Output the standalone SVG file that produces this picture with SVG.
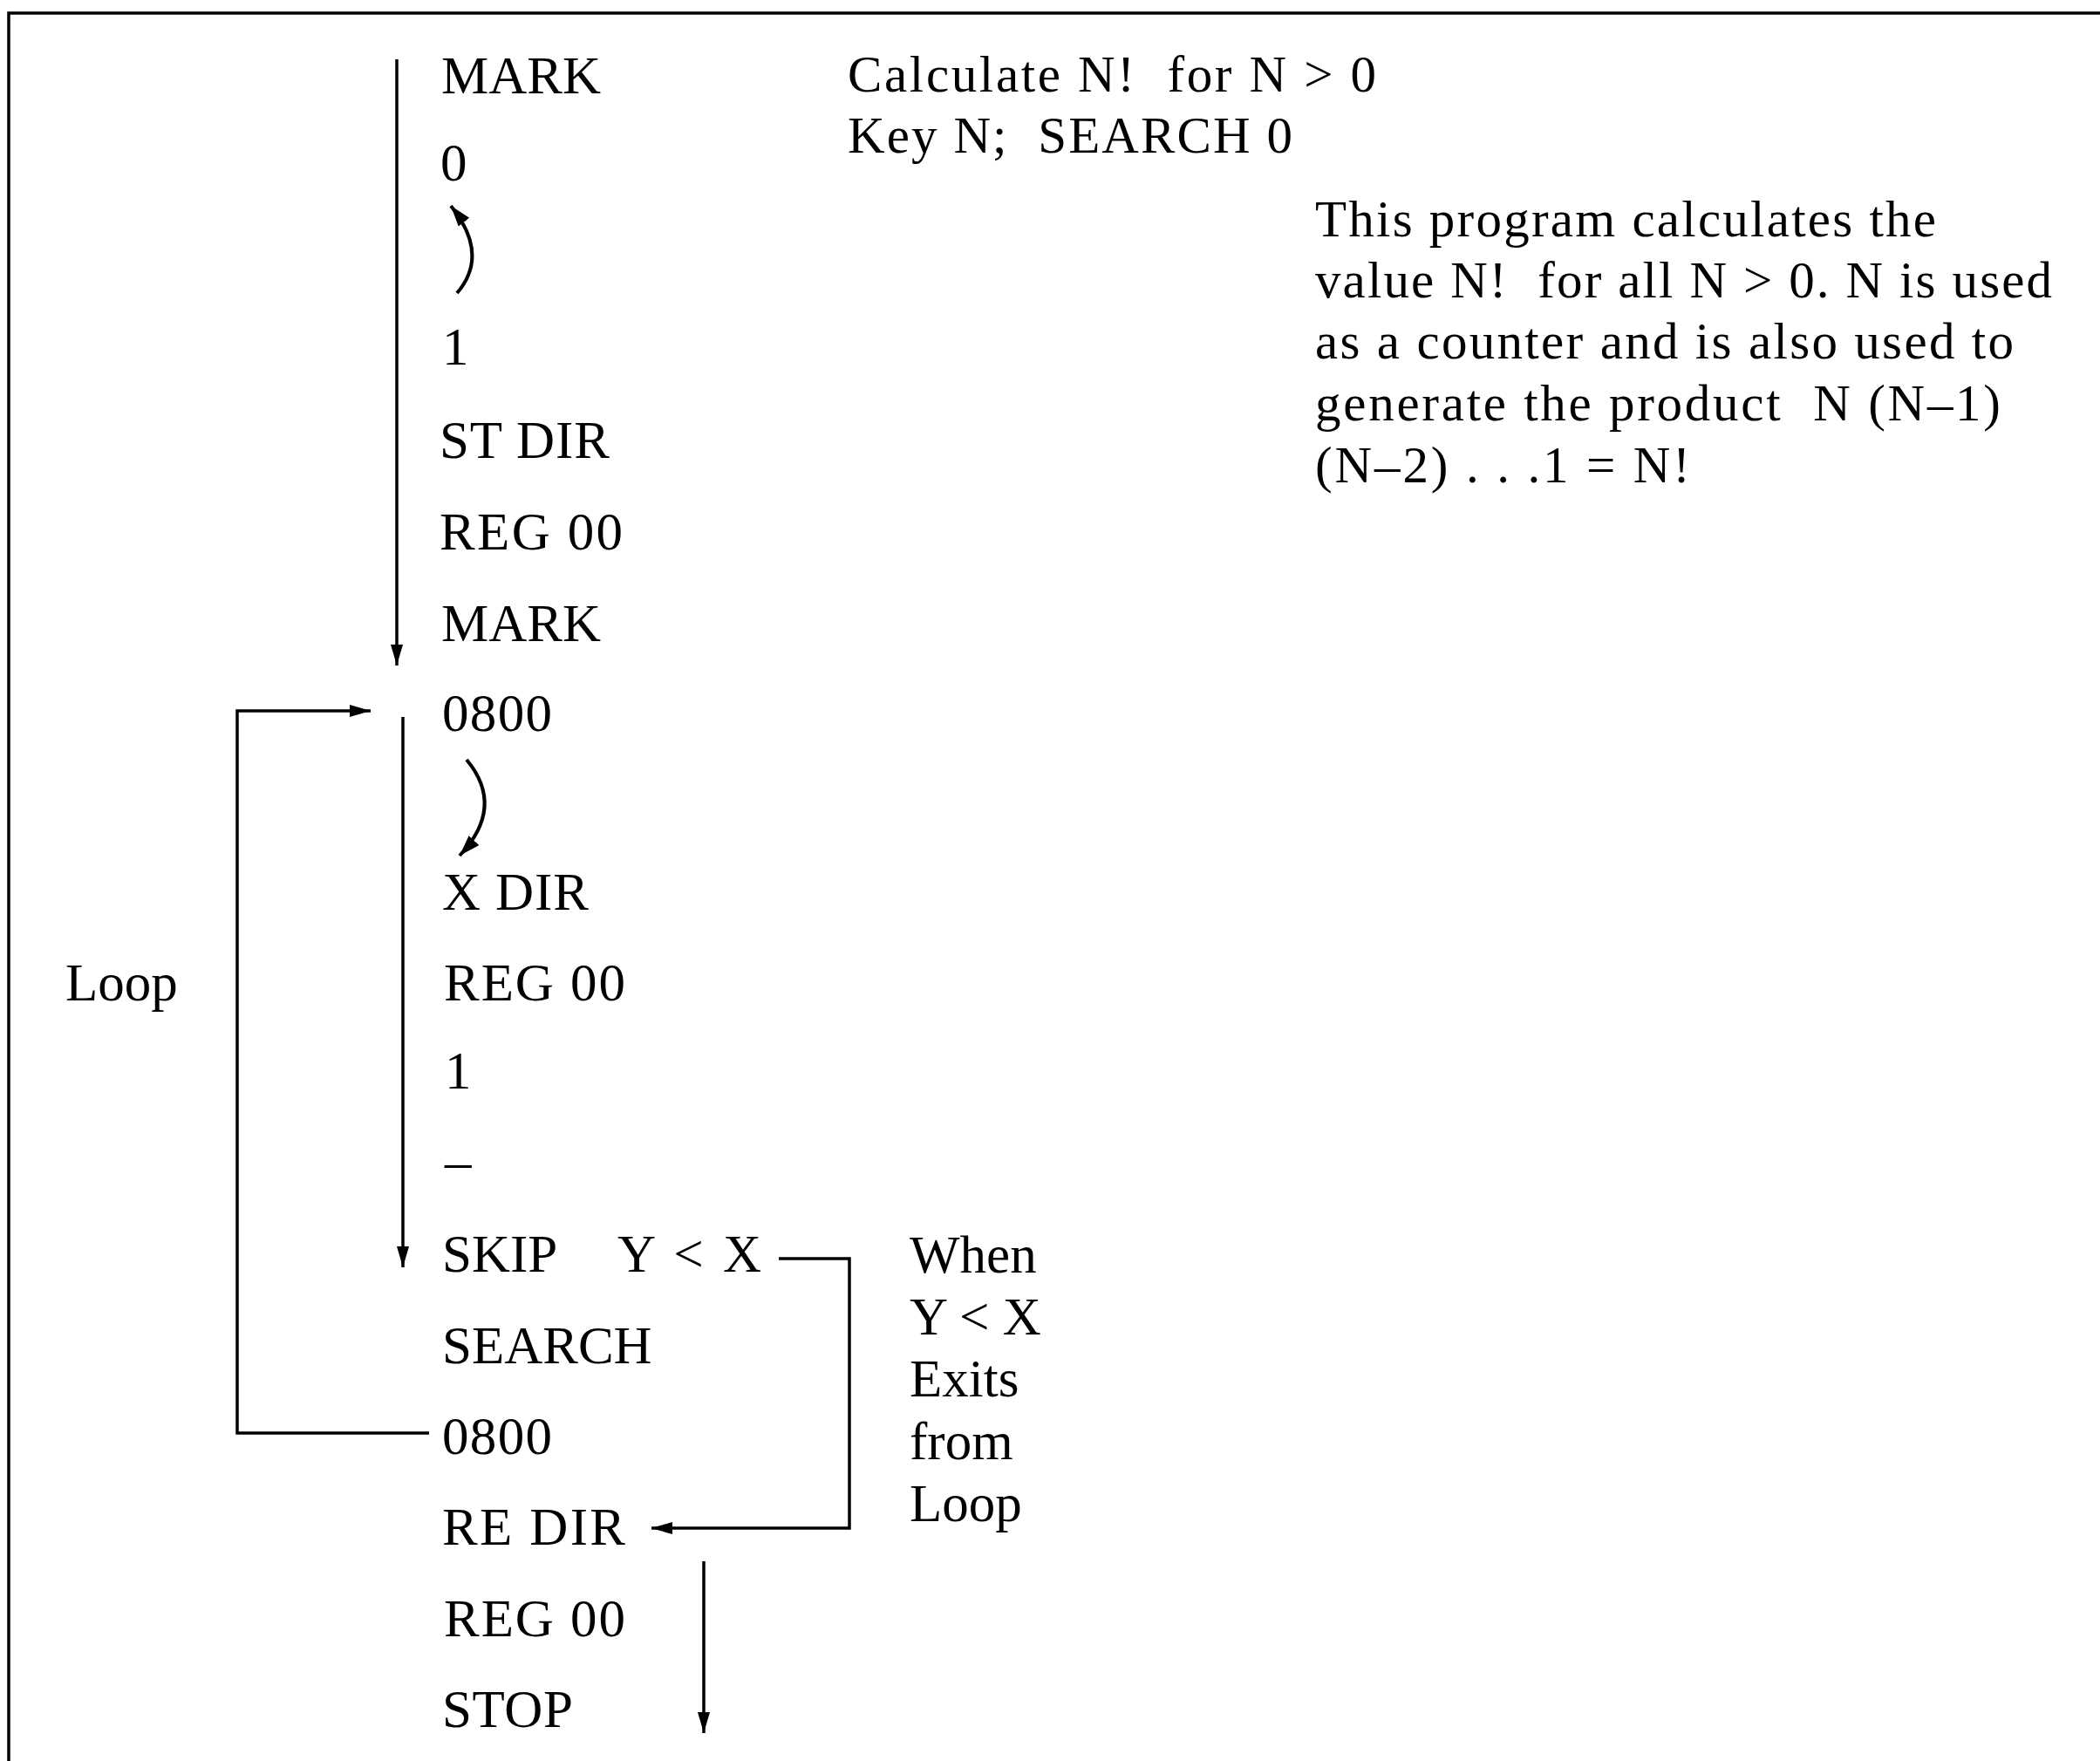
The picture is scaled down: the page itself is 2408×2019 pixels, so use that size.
<svg xmlns="http://www.w3.org/2000/svg" width="2408" height="2019" viewBox="0 0 2408 2019">
<style>
text{font-family:"Liberation Serif","Times New Roman",serif;fill:#000;white-space:pre}
.c{font-size:61px}
.n{font-size:59px}
.ln{fill:none;stroke:#000;stroke-width:3.5}
.arc{fill:none;stroke:#000;stroke-width:4}
</style>
<defs>
<marker id="ah" markerUnits="userSpaceOnUse" markerWidth="26" markerHeight="18" refX="24" refY="8" orient="auto">
<path d="M0,1 L24,8 L0,15 Z" fill="#000"/>
</marker>
<marker id="ahs" markerUnits="userSpaceOnUse" markerWidth="26" markerHeight="18" refX="24" refY="8" orient="auto">
<path d="M0,0 L24,8 L0,16 Z" fill="#000"/>
</marker>
</defs>
<rect width="2408" height="2019" fill="#fff"/>
<g id="frame"><path class="ln" d="M10,2019 V15 H2408"/></g>
<g id="connectors">
<path class="ln" d="M455,68 V763" marker-end="url(#ah)"/>
<path class="ln" d="M462,822 V1453" marker-end="url(#ah)"/>
<path class="ln" d="M492,1643 H272 V815 H425" marker-end="url(#ah)"/>
<path class="ln" d="M893,1443 H974 V1752 H747" marker-end="url(#ah)"/>
<path class="ln" d="M807,1790 V1987" marker-end="url(#ah)"/>
<path class="arc" d="M524,336 Q562,292 517,236" marker-end="url(#ahs)"/>
<path class="arc" d="M535,871 Q580,925 527,981" marker-end="url(#ahs)"/>
</g>
<g id="n-mark1"><text class="c" x="506" y="107">MARK</text></g>
<g id="n-0"><text class="c" x="505" y="207">0</text></g>
<g id="n-1a"><text class="c" x="507" y="418">1</text></g>
<g id="n-stdir"><text class="c" x="504" y="525" textLength="195">ST DIR</text></g>
<g id="n-reg1"><text class="c" x="504" y="630" textLength="210">REG 00</text></g>
<g id="n-mark2"><text class="c" x="506" y="735">MARK</text></g>
<g id="n-0800a"><text class="c" x="507" y="838" textLength="126">0800</text></g>
<g id="n-xdir"><text class="c" x="507" y="1043" textLength="168">X DIR</text></g>
<g id="n-reg2"><text class="c" x="509" y="1147" textLength="208">REG 00</text></g>
<g id="n-1b"><text class="c" x="510" y="1248">1</text></g>
<g id="n-minus"><text class="c" x="510" y="1352">–</text></g>
<g id="n-skip"><text class="c" x="507" y="1458">SKIP</text><text class="c" x="708" y="1458" textLength="165">Y &lt; X</text></g>
<g id="n-search"><text class="c" x="507" y="1563">SEARCH</text></g>
<g id="n-0800b"><text class="c" x="507" y="1667" textLength="126">0800</text></g>
<g id="n-redir"><text class="c" x="507" y="1771" textLength="210">RE DIR</text></g>
<g id="n-reg3"><text class="c" x="509" y="1876" textLength="208">REG 00</text></g>
<g id="n-stop"><text class="c" x="507" y="1980" textLength="150">STOP</text></g>
<g id="label-loop"><text class="c" x="75" y="1147">Loop</text></g>
<g id="label-exit">
<text class="c" x="1043" y="1459">When</text>
<text class="c" x="1043" y="1530">Y &lt; X</text>
<text class="c" x="1043" y="1601">Exits</text>
<text class="c" x="1043" y="1673">from</text>
<text class="c" x="1043" y="1744">Loop</text>
</g>
<g id="title">
<text class="n" x="972" y="105" textLength="606">Calculate N!  for N &gt; 0</text>
<text class="n" x="972" y="175" textLength="510">Key N;  SEARCH 0</text>
</g>
<g id="description">
<text class="n" x="1508" y="271" textLength="712">This program calculates the</text>
<text class="n" x="1508" y="341" textLength="845">value N!  for all N &gt; 0. N is used</text>
<text class="n" x="1508" y="411" textLength="801">as a counter and is also used to</text>
<text class="n" x="1508" y="482" textLength="786">generate the product  N (N–1)</text>
<text class="n" x="1508" y="553" textLength="430">(N–2) . . .1 = N!</text>
</g>
</svg>
